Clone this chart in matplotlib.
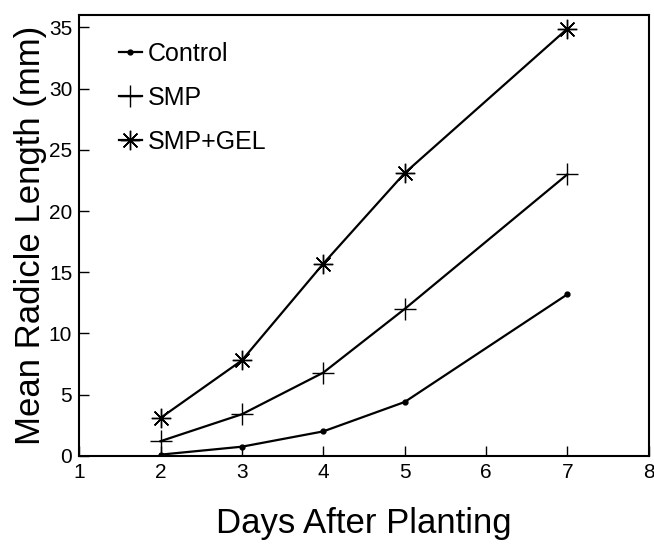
import matplotlib
matplotlib.use("Agg")
import matplotlib.pyplot as plt

plt.rcParams['font.family'] = ['Liberation Sans', 'DejaVu Sans']

# Data
days = [2, 3, 4, 5, 7]
control = [0.1, 0.75, 2.0, 4.4, 13.2]
smp = [1.2, 3.4, 6.8, 12.0, 23.0]
smp_gel = [3.1, 7.8, 15.7, 23.1, 34.9]

fig = plt.figure(figsize=(6.54, 5.44), dpi=100)
ax = fig.add_axes([0.121, 0.162, 0.871, 0.81])

ax.plot(days, control, color='black', lw=1.6, marker='o', ms=3.5, label='Control')
ax.plot(days, smp, color='black', lw=1.6, marker='+', ms=16, mew=1.0, label='SMP')
ax.plot(days, smp_gel, color='black', lw=1.6, marker=(8, 2, 0), ms=14, mew=1.0,
        label='SMP+GEL')

ax.set_xlim(1, 8)
ax.set_ylim(0, 36)
ax.set_xticks(range(1, 9))
ax.set_yticks(range(0, 36, 5))
ax.tick_params(direction='in', length=7, width=1, labelsize=15, pad=5)
for s in ax.spines.values():
    s.set_linewidth(1.5)

ax.set_xlabel('Days After Planting', fontsize=25, labelpad=18)
ax.set_ylabel('Mean Radicle Length (mm)', fontsize=25, labelpad=1)

ax.legend(loc='upper left', frameon=False, fontsize=18, handlelength=0.9,
          handletextpad=0.25, labelspacing=0.8, borderaxespad=0.4,
          bbox_to_anchor=(0.035, 0.985))

fig.savefig('out.png', dpi=100)
